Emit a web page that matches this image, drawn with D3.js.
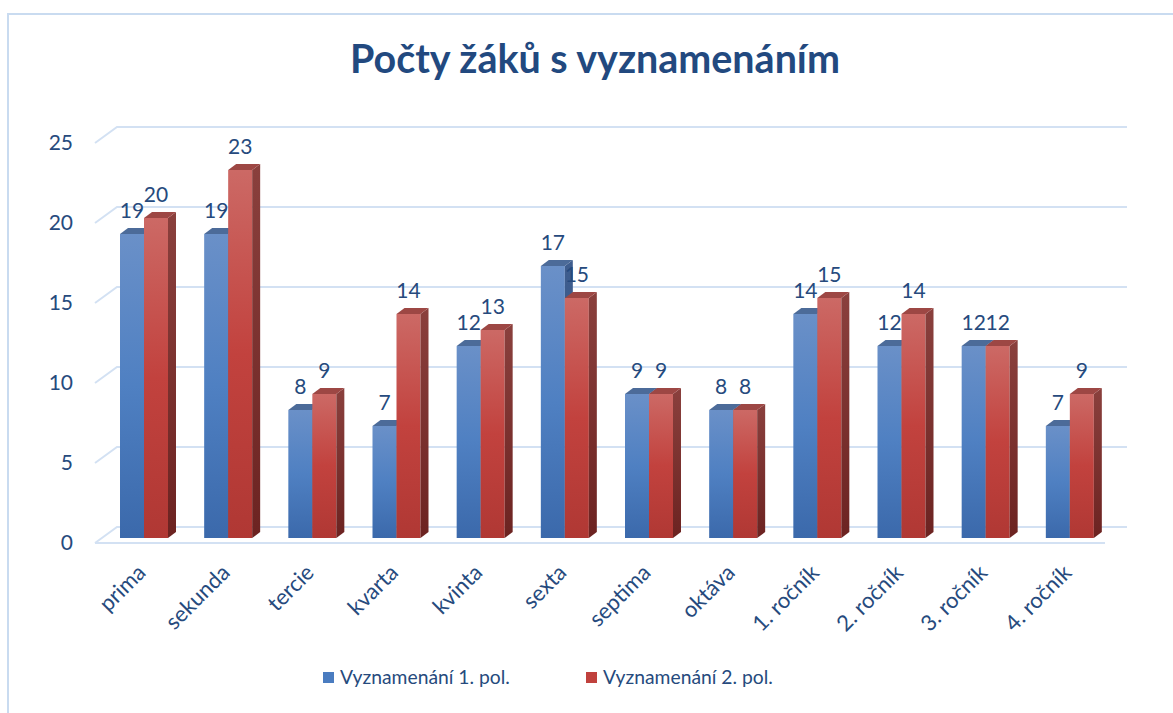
<!DOCTYPE html>
<html>
<head>
<meta charset="utf-8">
<script src="https://cdnjs.cloudflare.com/ajax/libs/d3/7.8.5/d3.min.js"></script>
<style>
  body { margin: 0; background: #fff; }
  text { font-family: Lato, "Open Sans", sans-serif; }
</style>
</head>
<body>
<div id="chart"></div>
<script>
// data
var categories = ["prima", "sekunda", "tercie", "kvarta", "kvinta", "sexta",
  "septima", "oktáva", "1. ročník", "2. ročník", "3. ročník", "4. ročník"];
var series1 = [19, 19, 8, 7, 12, 17, 9, 8, 14, 12, 12, 7];
var series2 = [20, 23, 9, 14, 13, 15, 9, 8, 15, 14, 12, 9];
var seriesNames = ["Vyznamenání 1. pol.", "Vyznamenání 2. pol."];
var yTicks = [0, 5, 10, 15, 20, 25];
var title = "Počty žáků s vyznamenáním";

var width = 1173, height = 713;
var textColor = "#264a7d";
var gridColor = "#d3e1f3";

// 3d offsets: back wall and bar depth
var wall = { dx: 22, dy: -16 };
var depth = { dx: 8, dy: -6 };

var svg = d3.select("#chart").append("svg")
  .attr("width", width).attr("height", height);

// scale a text's font so it spans the given width (no Calibri here)
function fit(sel, target) {
  var fs = parseFloat(sel.style("font-size"));
  var w = sel.node().getComputedTextLength();
  sel.style("font-size", (fs * target / w).toFixed(2) + "px");
}

var defs = svg.append("defs");
function grad(id, stops) {
  var g = defs.append("linearGradient").attr("id", id)
    .attr("x1", 0).attr("y1", 0).attr("x2", 0).attr("y2", 1);
  stops.forEach(function (s) {
    g.append("stop").attr("offset", s[0]).attr("stop-color", s[1]);
  });
}
grad("blueFront", [[0, "#6a90c8"], [0.5, "#4f80c2"], [1, "#3b69ab"]]);
grad("blueSide", [[0, "#3f5e8f"], [1, "#2c4b7a"]]);
grad("redFront", [[0, "#cc6965"], [0.5, "#c2423e"], [1, "#b03834"]]);
grad("redSide", [[0, "#8a403d"], [1, "#6c2321"]]);
var faces = [
  { front: "url(#blueFront)", side: "url(#blueSide)", top: "#4c6b99" },
  { front: "url(#redFront)", side: "url(#redSide)", top: "#9d4744" }
];

// chart border
svg.append("rect").attr("x", 8).attr("y", 14)
  .attr("width", 1180).attr("height", 720)
  .attr("fill", "none").attr("stroke", "#c9dbf0").attr("stroke-width", 2);

// scales
var x = d3.scaleBand().domain(categories).range([95, 1105]);
var y = d3.scaleLinear().domain([0, 25]).range([543, 143]);
var barBase = 538; // bars stand a little behind the front edge
var yBar = d3.scaleLinear().domain([0, 25]).range([barBase, barBase - 400]);
var barW = 24, barOffset = 25;

// walls: left side diagonals + back wall gridlines
var grid = svg.append("g").attr("stroke", gridColor).attr("stroke-width", 2).attr("fill", "none");
yTicks.forEach(function (t) {
  grid.append("path").attr("d",
    "M" + 95 + "," + y(t) + "L" + (95 + wall.dx) + "," + (y(t) + wall.dy) +
    "L" + (1105 + wall.dx) + "," + (y(t) + wall.dy));
});
grid.append("line").attr("x1", 95).attr("x2", 1105).attr("y1", y(0)).attr("y2", y(0));

// y tick labels
svg.append("g").selectAll("text").data(yTicks).enter().append("text")
  .attr("x", 73).attr("y", function (d) { return y(d); })
  .attr("dy", "0.35em").attr("text-anchor", "end")
  .attr("fill", textColor).style("font-size", "21px")
  .text(function (d) { return d; });

// bars
var all = [series1, series2];
var bars = svg.append("g");
categories.forEach(function (c, i) {
  all.forEach(function (s, k) {
    var x0 = x(c) + barOffset + k * barW;
    var y0 = yBar(s[i]);
    var f = faces[k];
    var g = bars.append("g");
    g.append("rect").attr("x", x0).attr("y", y0)
      .attr("width", barW).attr("height", barBase - y0).attr("fill", f.front);
    g.append("path").attr("fill", f.side).attr("d",
      "M" + (x0 + barW) + "," + y0 + "l" + depth.dx + "," + depth.dy +
      "V" + (barBase + depth.dy) + "l" + (-depth.dx) + "," + (-depth.dy) + "Z");
    g.append("path").attr("fill", f.top).attr("d",
      "M" + x0 + "," + y0 + "l" + depth.dx + "," + depth.dy +
      "h" + barW + "l" + (-depth.dx) + "," + (-depth.dy) + "Z");
  });
});

// value labels
var labels = svg.append("g").attr("fill", textColor).style("font-size", "21px")
  .attr("text-anchor", "middle");
categories.forEach(function (c, i) {
  all.forEach(function (s, k) {
    labels.append("text")
      .attr("x", x(c) + barOffset + k * barW + barW / 2)
      .attr("y", yBar(s[i]) - 16)
      .text(s[i]);
  });
});

// category labels
svg.append("g").selectAll("text").data(categories).enter().append("text")
  .attr("transform", function (d) {
    return "translate(" + (x(d) + barOffset + barW + 3) + ",574) rotate(-45)";
  })
  .attr("text-anchor", "end").attr("fill", textColor).style("font-size", "22px")
  .text(function (d) { return d; });

// title
var t = svg.append("text").attr("x", 595).attr("y", 73).attr("text-anchor", "middle")
  .attr("fill", "#22497f").style("font-size", "33px").style("font-weight", "bold")
  .text(title);
fit(t, 490);

// legend
var legendX = [323, 586];
var legend = svg.append("g");
seriesNames.forEach(function (n, k) {
  legend.append("rect").attr("x", legendX[k]).attr("y", 672)
    .attr("width", 11).attr("height", 11)
    .attr("fill", k === 0 ? "#4a7cc0" : "#c0413d");
  var lt = legend.append("text").attr("x", legendX[k] + 17).attr("y", 684)
    .attr("fill", textColor).style("font-size", "20px").text(n);
  fit(lt, 170);
});
</script>
</body>
</html>
